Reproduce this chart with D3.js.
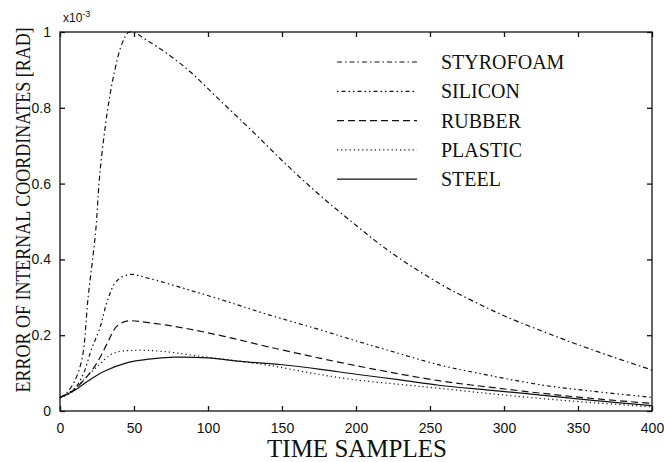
<!DOCTYPE html>
<html>
<head>
<meta charset="utf-8">
<script src="https://cdn.jsdelivr.net/npm/d3@7"></script>
<style>
  body { margin: 0; background: #fff; }
  svg { display: block; }
</style>
</head>
<body>
<div id="chart"></div>
<script>
// values are in units of 1e-3 rad
const xTicks = [0, 50, 100, 150, 200, 250, 300, 350, 400];
const yTicks = [0, 0.2, 0.4, 0.6, 0.8, 1];

const styrofoam = [[0, 0.035], [5, 0.05], [10, 0.08], [15, 0.14], [19, 0.30], [24, 0.47], [27, 0.63],
    [32, 0.79], [36, 0.88], [42, 0.97], [47, 1.0], [60, 0.975], [85, 0.905], [108, 0.82], [130, 0.738],
    [153, 0.65], [176, 0.568], [200, 0.49], [223, 0.42], [257, 0.335], [279, 0.29], [302, 0.248],
    [333, 0.2], [350, 0.175], [374, 0.142], [400, 0.108]];
const silicon = [[0, 0.035], [10, 0.06], [16, 0.10], [21, 0.16], [27, 0.22], [32, 0.29], [38, 0.342],
    [47, 0.36], [60, 0.35], [85, 0.322], [112, 0.29], [140, 0.255], [176, 0.214], [200, 0.185],
    [221, 0.161], [257, 0.121], [290, 0.094], [325, 0.069], [360, 0.052], [400, 0.036]];
const rubber = [[0, 0.035], [9, 0.055], [18, 0.09], [25, 0.127], [32, 0.179], [38, 0.222], [45, 0.237],
    [60, 0.233], [85, 0.218], [112, 0.196], [140, 0.17], [176, 0.139], [210, 0.112], [256, 0.08],
    [290, 0.063], [325, 0.047], [360, 0.033], [400, 0.02]];
const plastic = [[0, 0.035], [8, 0.05], [16, 0.082], [25, 0.117], [36, 0.152], [50, 0.16], [70, 0.157],
    [99, 0.142], [120, 0.132], [142, 0.12], [170, 0.1], [198, 0.083], [230, 0.07], [256, 0.06],
    [290, 0.046], [325, 0.033], [360, 0.022], [400, 0.011]];
const steel = [[0, 0.036], [10, 0.055], [20, 0.082], [30, 0.105], [45, 0.127], [60, 0.137], [77, 0.142],
    [100, 0.14], [122, 0.131], [150, 0.122], [176, 0.11], [200, 0.097], [230, 0.082], [256, 0.068],
    [290, 0.055], [325, 0.042], [360, 0.028], [400, 0.014]];

const seriesNames = ["STYROFOAM", "SILICON", "RUBBER", "PLASTIC", "STEEL"];
const seriesData = [styrofoam, silicon, rubber, plastic, steel];
const dashes = ["5,3,1.5,3", "1.5,3,4,3,1.5,3", "7,4", "1.2,3", null];

const width = 664, height = 462;
const margin = {top: 32, right: 12, bottom: 51, left: 60};

const svg = d3.select("#chart").append("svg")
    .attr("width", width)
    .attr("height", height);

const x = d3.scaleLinear().domain([0, 400]).range([margin.left, width - margin.right]);
const y = d3.scaleLinear().domain([0, 1]).range([height - margin.bottom, margin.top]);

const tickFont = "'Liberation Sans', Arial, sans-serif";
const labelFont = "'Liberation Serif', 'Times New Roman', serif";

// frame
svg.append("rect")
    .attr("x", x(0)).attr("y", y(1))
    .attr("width", x(400) - x(0)).attr("height", y(0) - y(1))
    .attr("fill", "none").attr("stroke", "#111").attr("stroke-width", 1.3);

// axes with inward ticks on all sides
const axisB = svg.append("g")
    .attr("transform", `translate(0,${y(0)})`)
    .call(d3.axisBottom(x).tickValues(xTicks).tickSizeInner(-5).tickSizeOuter(0).tickPadding(12));
const axisT = svg.append("g")
    .attr("transform", `translate(0,${y(1)})`)
    .call(d3.axisTop(x).tickValues(xTicks).tickSizeInner(-5).tickSizeOuter(0).tickFormat(""));
const axisL = svg.append("g")
    .attr("transform", `translate(${x(0)},0)`)
    .call(d3.axisLeft(y).tickValues(yTicks).tickSizeInner(-5).tickSizeOuter(0).tickPadding(9)
        .tickFormat(d3.format("~g")));
const axisR = svg.append("g")
    .attr("transform", `translate(${x(400)},0)`)
    .call(d3.axisRight(y).tickValues(yTicks).tickSizeInner(-5).tickSizeOuter(0).tickFormat(""));

[axisB, axisT, axisL, axisR].forEach(g => {
    g.select(".domain").remove();
    g.selectAll(".tick line").attr("stroke", "#111").attr("stroke-width", 1.3);
    g.selectAll(".tick text")
        .attr("font-family", tickFont)
        .attr("font-size", 14)
        .attr("fill", "#111");
});

// exponent label
const expo = svg.append("text")
    .attr("x", 63).attr("y", 22)
    .attr("font-family", tickFont)
    .attr("font-size", 12)
    .attr("fill", "#111");
expo.append("tspan").text("x10");
expo.append("tspan").attr("dy", -5).attr("font-size", 9).text("-3");

// curves
const line = d3.line()
    .x(d => x(d[0]))
    .y(d => y(d[1]))
    .curve(d3.curveCatmullRom.alpha(0.5));

svg.append("g")
    .selectAll("path")
    .data(seriesData)
    .join("path")
    .attr("d", line)
    .attr("fill", "none")
    .attr("stroke", "#111")
    .attr("stroke-width", 1.2)
    .attr("stroke-dasharray", (d, i) => dashes[i]);

// legend
const legend = svg.append("g");
const legendItems = legend.selectAll("g")
    .data(seriesNames)
    .join("g")
    .attr("transform", (d, i) => `translate(0,${62 + i * 29.3})`);

legendItems.append("line")
    .attr("x1", 337).attr("x2", 417)
    .attr("stroke", "#111")
    .attr("stroke-width", 1.2)
    .attr("stroke-dasharray", (d, i) => dashes[i]);

legendItems.append("text")
    .attr("x", 441)
    .attr("dy", "0.35em")
    .attr("font-family", labelFont)
    .attr("font-size", 20)
    .attr("fill", "#111")
    .text(d => d);

// axis titles
svg.append("text")
    .attr("x", 357).attr("y", 457)
    .attr("text-anchor", "middle")
    .attr("font-family", labelFont)
    .attr("font-size", 25)
    .attr("fill", "#111")
    .text("TIME SAMPLES");

// glyphs in the scan are taller than they are wide, so stretch across the baseline
svg.append("text")
    .attr("transform", "translate(30,210) rotate(-90) scale(1,1.2)")
    .attr("text-anchor", "middle")
    .attr("font-family", labelFont)
    .attr("font-size", 18)
    .attr("fill", "#111")
    .text("ERROR OF INTERNAL COORDINATES [RAD]");
</script>
</body>
</html>
